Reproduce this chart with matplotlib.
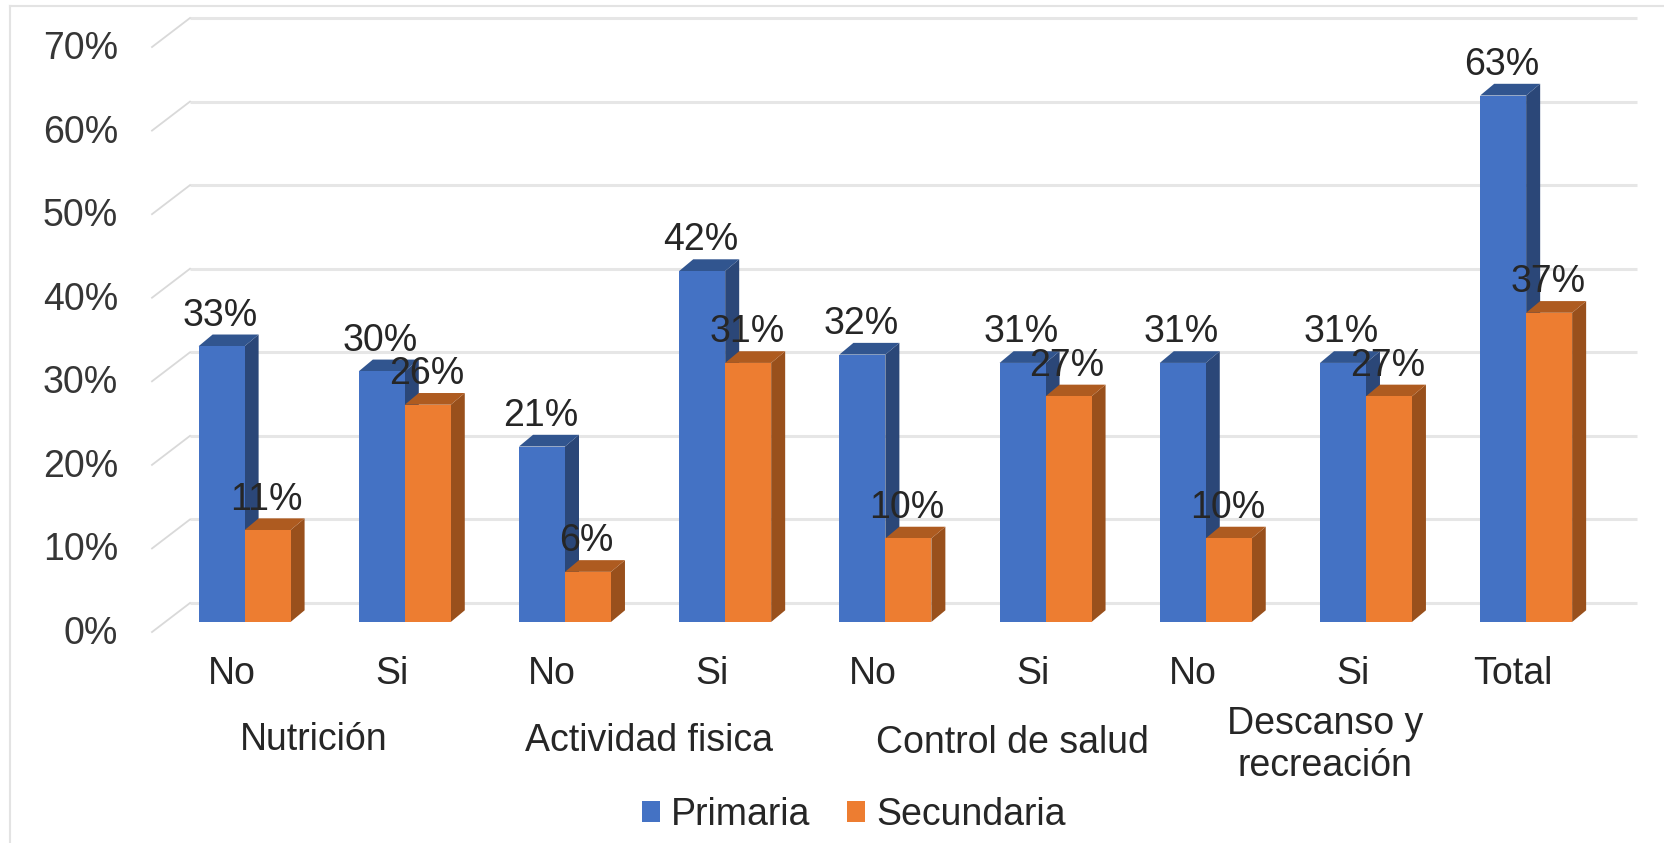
import numpy as np
import matplotlib
matplotlib.use('Agg')
import matplotlib.pyplot as plt
from matplotlib.lines import Line2D
from matplotlib.patches import Patch
from matplotlib.transforms import ScaledTranslation

plt.rcParams['font.family'] = ['Liberation Sans', 'DejaVu Sans']

# Survey results by category
answers = ['No', 'Si', 'No', 'Si', 'No', 'Si', 'No', 'Si', 'Total']
primaria = [33, 30, 21, 42, 32, 31, 31, 31, 63]
secundaria = [11, 26, 6, 31, 10, 27, 10, 27, 37]
groups = ['Nutrición', 'Actividad fisica', 'Control de salud', 'Descanso y\nrecreación']
y_ticks = [0, 10, 20, 30, 40, 50, 60, 70]

W, H = 1665, 843
FONT = 27
DARK = '#262626'
GREY = '#363636'

fig = plt.figure(figsize=(W / 100, H / 100), dpi=100)

# Outer chart frame (top and left edges only)
fig.add_artist(Line2D([10 / W, 10 / W], [0, 1 - 6 / H], color='#E3E3E3', lw=1.5))
fig.add_artist(Line2D([10 / W, 1], [1 - 6 / H, 1 - 6 / H], color='#E3E3E3', lw=1.5))

ax = fig.add_axes([152 / W, 1 - 622 / H, (1637 - 152) / W, 585 / H])
ax.set_xlim(-0.578, 8.692)
ax.set_ylim(0, 70)
for s in ax.spines.values():
    s.set_visible(False)

x = np.arange(len(answers))
bar_w = 0.287
depth_x = 0.0875
depth_y = 1.4


def bar_3d(left, values, front, side, top):
    # Front face comes from ax.bar, the side and top faces sit behind it
    for l, v in zip(left, values):
        ax.fill([l + bar_w, l + bar_w + depth_x, l + bar_w + depth_x, l + bar_w],
                [0, depth_y, v + depth_y, v], color=side, lw=0, zorder=3, clip_on=False)
        ax.fill([l, l + depth_x, l + bar_w + depth_x, l + bar_w],
                [v, v + depth_y, v + depth_y, v], color=top, lw=0, zorder=3, clip_on=False)
    ax.bar(left, values, bar_w, align='edge', color=front, lw=0, zorder=3)


# Back wall gridlines with the slanted floor/side lines
wall_x = -0.341
for v in y_ticks:
    ax.plot([wall_x, 8.692], [v + 2.27, v + 2.27], color='#E6E6E6', lw=2.2, zorder=1,
            clip_on=False, solid_capstyle='butt')
    ax.plot([-0.578, wall_x], [v - 1.2, v + 2.27], color='#D9D9D9', lw=1.3, zorder=1, clip_on=False)

bar_3d(x - bar_w, primaria, '#4472C4', '#2B4778', '#31558F')
bar_3d(x, secundaria, '#ED7D31', '#99501C', '#AE5B20')

# Value labels sit above each bar
for i in range(len(x)):
    ax.annotate(f'{primaria[i]}%', (x[i] - bar_w / 2, primaria[i]), xytext=(-1, 22), textcoords='offset points',
                ha='center', va='center', fontsize=FONT, color=DARK, zorder=5, annotation_clip=False)
    ax.annotate(f'{secundaria[i]}%', (x[i] + bar_w / 2, secundaria[i]), xytext=(-1, 22), textcoords='offset points',
                ha='center', va='center', fontsize=FONT, color=DARK, zorder=5, annotation_clip=False)

ax.set_yticks(y_ticks)
ax.set_yticklabels([f'{v}%' for v in y_ticks], fontsize=FONT, color=GREY)
ax.set_xticks(x)
ax.set_xticklabels(answers, fontsize=FONT, color=DARK)
ax.tick_params(axis='y', length=0, pad=24.5)
ax.tick_params(axis='x', length=0, pad=24.5)

# Shift the tick labels to line up with the slanted front edge
y_shift = ScaledTranslation(0, -0.08, fig.dpi_scale_trans)
x_shift = ScaledTranslation(-0.13, 0, fig.dpi_scale_trans)
for lbl in ax.get_yticklabels():
    lbl.set_transform(lbl.get_transform() + y_shift)
for lbl in ax.get_xticklabels():
    lbl.set_transform(lbl.get_transform() + x_shift)

# Group names under the answers
group_px = [(314, 740), (649, 741), (1012, 743), (1325, 745)]
for name, (px, py) in zip(groups, group_px):
    fig.text(px / W, 1 - py / H, name, ha='center', va='center', fontsize=FONT, color=DARK, linespacing=1.22)

handles = [Patch(color='#4472C4', lw=0), Patch(color='#ED7D31', lw=0)]
fig.legend(handles, ['Primaria', 'Secundaria'], loc='center', bbox_to_anchor=(854 / W, 1 - 815 / H),
           ncol=2, frameon=False, fontsize=FONT, labelcolor=DARK, handlelength=0.48, handleheight=0.48,
           handletextpad=0.3, columnspacing=0.98, borderpad=0, borderaxespad=0)

fig.savefig('out.png', dpi=100)
